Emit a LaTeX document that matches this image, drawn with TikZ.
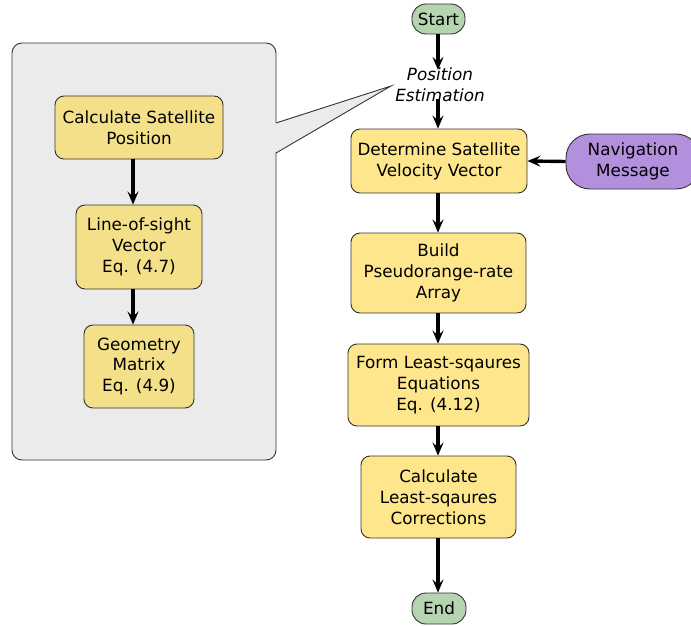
\documentclass[tikz,border=0pt]{standalone}
\usepackage{fontspec}
\setmainfont{DejaVu Sans}
\usetikzlibrary{arrows.meta}
\definecolor{boxyellow}{HTML}{FDE68C}
\definecolor{boxyellowdim}{HTML}{F5E08A}
\definecolor{termgreen}{HTML}{B5D4B0}
\definecolor{navpurple}{HTML}{B290DE}
\definecolor{panelgray}{HTML}{EBEBEB}
\definecolor{edgegray}{HTML}{333333}
\tikzset{
  txt/.style={font=\fontsize{16.8}{20.8}\selectfont, align=center, inner sep=0pt},
  procbox/.style={txt, draw=edgegray, line width=0.9pt, fill=boxyellow, rounded corners=9pt},
  subbox/.style={procbox, fill=boxyellowdim},
  terminal/.style={txt, draw=edgegray, line width=0.9pt, fill=termgreen, rounded corners=14pt},
  source/.style={txt, draw=edgegray, line width=0.9pt, fill=navpurple, rounded corners=24pt},
  flow/.style={line width=3.4pt, -{Stealth[length=13pt,width=11pt,inset=5pt]}},
  panel/.style={fill=panelgray, draw=edgegray, line width=0.9pt},
}
\begin{document}
\begin{tikzpicture}[x=1pt,y=-1pt]
\useasboundingbox (0,0) rectangle (691,626);

% detail panel with callout tail
\coordinate (tip) at (391,86);
\coordinate (tailA) at (276,123);
\coordinate (tailB) at (276,153);
\draw[panel, rounded corners=10pt] (12,43) rectangle (276,460);
\fill[panelgray] ([xshift=-1.5pt]tailA) -- (tip) -- ([xshift=-1.5pt]tailB) -- cycle;
\draw[edgegray, line width=0.9pt] (tailA) -- (tip) -- (tailB);

% main flow
\node[terminal, minimum width=53pt, minimum height=30pt] (start) at (438.5,19) {Start};
\node[txt, font=\fontsize{16.8}{20.8}\selectfont\itshape] (pos) at (440,85) {Position\\Estimation};
\node[procbox, minimum width=176pt, minimum height=64pt] (det) at (439,161) {Determine Satellite\\Velocity Vector};
\node[source, minimum width=134pt, minimum height=55pt] (nav) at (633,161.5) {Navigation\\Message};
\node[procbox, minimum width=175pt, minimum height=80pt] (build) at (438.5,273) {Build\\Pseudorange-rate\\Array};
\node[procbox, minimum width=181pt, minimum height=82pt] (form) at (438.5,385) {Form Least-sqaures\\Equations\\Eq. (4.12)};
\node[procbox, minimum width=155pt, minimum height=82pt] (corr) at (438.5,497) {Calculate\\Least-sqaures\\Corrections};
\node[terminal, minimum width=54pt, minimum height=31pt] (end) at (439,608.5) {End};

% steps inside the panel
\node[subbox, minimum width=168pt, minimum height=63pt] (calcsat) at (139,127.5) {Calculate Satellite\\Position};
\node[subbox, minimum width=126pt, minimum height=84pt] (los) at (139,247) {Line-of-sight\\Vector\\Eq. (4.7)};
\node[subbox, minimum width=110pt, minimum height=83pt] (geom) at (139,366.5) {Geometry\\Matrix\\Eq. (4.9)};

% connectors
\coordinate (axis) at (438,0);
\draw[flow] (start.south -| axis) -- ([yshift=-2pt]pos.north -| axis);
\draw[flow] ([yshift=3pt]pos.south -| axis) -- (det.north -| axis);
\draw[flow] (nav.west) -- (det.east);
\draw[flow] (det.south -| axis) -- (build.north -| axis);
\draw[flow] (build.south -| axis) -- (form.north -| axis);
\draw[flow] (form.south -| axis) -- (corr.north -| axis);
\draw[flow] (corr.south -| axis) -- (end.north -| axis);
\draw[flow] ([xshift=-6pt]calcsat.south) -- ([xshift=-6pt]los.north);
\draw[flow] ([xshift=-6pt]los.south) -- ([xshift=-6pt]geom.north);
\end{tikzpicture}
\end{document}
